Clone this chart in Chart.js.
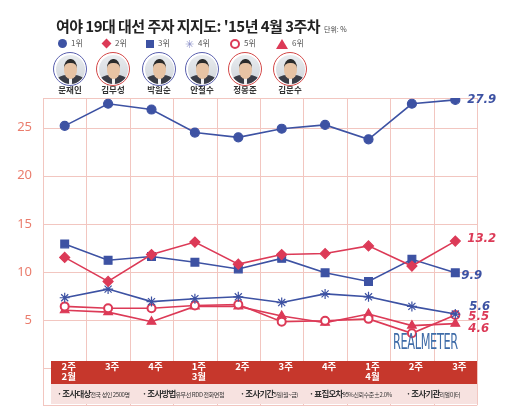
<!DOCTYPE html>
<html>
<head>
<meta charset="utf-8">
<script src="https://cdn.jsdelivr.net/npm/chart.js@4.4.1/dist/chart.umd.min.js"></script>
<style>
	body { margin: 0; background: #fff; }
	#wrap { position: relative; width: 520px; height: 412px; overflow: hidden; font-family: 'Noto Sans CJK KR', 'Noto Sans', sans-serif; }
	#wrap canvas { position: absolute; left: 0; top: 0; }
	.title { position: absolute; left: 56px; top: 15px; font-size: 15px; font-weight: bold; color: #222; letter-spacing: -0.55px; white-space: nowrap; }
	.unit { font-size: 7px; font-weight: normal; letter-spacing: 0; margin-left: 4px; color: #444; }
	.leg { position: absolute; top: 37px; font-size: 8px; color: #555; white-space: nowrap; }
	.sym { display: inline-block; vertical-align: middle; margin-right: 4px; }
	.face { position: absolute; top: 52px; width: 29px; height: 29px; border-radius: 50%; border: 1.5px solid; padding: 1.5px; background: #fff; }
	.face div.in { width: 29px; height: 29px; border-radius: 50%; overflow: hidden; position: relative; background: linear-gradient(#e9ecef, #cfd4da); }
	.head { position: absolute; left: 8px; top: 4px; width: 13px; height: 16px; border-radius: 45%; background: #e7c3a4; border-top: 4px solid #2b2b2b; }
	.suit { position: absolute; left: 1px; top: 20px; width: 27px; height: 12px; border-radius: 40% 40% 0 0; background: #3a3d47; }
	.tie { position: absolute; left: 13px; top: 20px; width: 3px; height: 9px; background: #f2f2f2; }
	.name { position: absolute; top: 84px; width: 40px; text-align: center; font-size: 8.5px; line-height: 10px; font-weight: bold; color: #333; }
	.note { position: absolute; top: 387px; font-size: 8.5px; font-weight: bold; color: #333; white-space: nowrap; letter-spacing: -0.8px; }
	.note small { font-size: 6px; font-weight: normal; letter-spacing: -0.4px; }
	.brand { position: absolute; left: 393px; top: 330px; font-family: 'Liberation Sans Narrow', 'DejaVu Sans Condensed', sans-serif; font-size: 21px; color: #3f6ca8; letter-spacing: -0.6px; transform: scaleX(0.6); transform-origin: left top; }
</style>
</head>
<body>
<div id="wrap">
	<canvas id="c" width="520" height="412"></canvas>
	<div class="title">여야 19대 대선 주자 지지도: '15년 4월 3주차<span class="unit">단위: %</span></div>
	<div id="legend"></div>
	<div id="faces"></div>
	<div class="brand">REALMETER</div>
	<div class="note" style="left:57px">· 조사대상<small>전국 성인 2500명</small></div>
	<div class="note" style="left:142px">· 조사방법<small>유무선 RDD 전화면접</small></div>
	<div class="note" style="left:240px">· 조사기간<small>5일(월~금)</small></div>
	<div class="note" style="left:309px">· 표집오차<small>95%신뢰수준±2.0%</small></div>
	<div class="note" style="left:406px">· 조사기관<small>리얼미터</small></div>
</div>
<script>
const weeks = [['2주', '2월'], '3주', '4주', ['1주', '3월'], '2주', '3주', '4주', ['1주', '4월'], '2주', '3주']
const names = ['문재인', '김무성', '박원순', '안철수', '정몽준', '김문수']
const ranks = ['1위', '2위', '3위', '4위', '5위', '6위']

const moon = [25.2, 27.5, 26.9, 24.5, 24.0, 24.9, 25.3, 23.8, 27.5, 27.9]
const kimMS = [11.5, 9.0, 11.8, 13.1, 10.8, 11.8, 11.9, 12.7, 10.6, 13.2]
const park = [12.9, 11.2, 11.6, 11.0, 10.3, 11.4, 9.9, 9.0, 11.3, 9.9]
const ahn = [7.3, 8.2, 6.9, 7.2, 7.4, 6.8, 7.7, 7.4, 6.4, 5.6]
const chung = [6.4, 6.2, 6.2, 6.5, 6.6, 4.8, 4.9, 5.1, 3.6, 5.5]
const kimMSu = [6.0, 5.8, 4.8, 6.4, 6.4, 5.4, 4.7, 5.6, 4.4, 4.6]

const yTicks = [5, 10, 15, 20, 25]

const BLUE = '#3d52a3'
const RED = '#dc3a57'
const GRID = '#f2c6c0'

const series = [moon, kimMS, park, ahn, chung, kimMSu]
const colors = [BLUE, RED, BLUE, BLUE, RED, RED]
const styles = ['circle', 'rectRot', 'rect', 'star', 'circle', 'triangle']
const radii = [4.5, 5, 5.5, 5, 4, 5]
const fills = [BLUE, RED, BLUE, BLUE, '#fff', RED]
const labelShift = [[12, 0], [12, -2], [6, 3], [14, -7], [13, 2], [13, 5]]

// header: legend + portraits
const legend = document.getElementById('legend')
const legX = [58, 101, 146, 185, 230, 276]
const symHtml = [
	'<span class="sym" style="width:9px;height:9px;border-radius:50%;background:' + BLUE + '"></span>',
	'<span class="sym" style="width:7px;height:7px;transform:rotate(45deg);background:' + RED + ';margin:0 5px 0 2px"></span>',
	'<span class="sym" style="width:8px;height:8px;background:' + BLUE + '"></span>',
	'<span class="sym" style="color:#8a8fc8;font-size:11px;line-height:9px">✳</span>',
	'<span class="sym" style="width:6px;height:6px;border-radius:50%;border:2.5px solid ' + RED + '"></span>',
	'<span class="sym" style="width:0;height:0;border-left:6px solid transparent;border-right:6px solid transparent;border-bottom:10px solid ' + RED + '"></span>'
]
ranks.forEach((r, i) => {
	const d = document.createElement('div')
	d.className = 'leg'
	d.style.left = legX[i] + 'px'
	d.innerHTML = symHtml[i] + r
	legend.appendChild(d)
})

const faces = document.getElementById('faces')
const faceX = [70, 113, 159, 202, 245, 290]
names.forEach((n, i) => {
	const f = document.createElement('div')
	f.className = 'face'
	f.style.left = (faceX[i] - 17) + 'px'
	f.style.borderColor = colors[i] === BLUE ? '#5a60ae' : '#d34848'
	f.innerHTML = '<div class="in"><div class="suit"></div><div class="tie"></div><div class="head"></div></div>'
	faces.appendChild(f)
	const t = document.createElement('div')
	t.className = 'name'
	t.style.left = (faceX[i] - 20) + 'px'
	t.textContent = n
	faces.appendChild(t)
})

const bandPlugin = {
	id: 'band',
	beforeDatasetsDraw(chart) {
		const { ctx, chartArea, scales } = chart
		const { x, y } = scales
		ctx.save()
		// grid, from the scales
		ctx.strokeStyle = GRID
		ctx.lineWidth = 1
		ctx.beginPath()
		y.ticks.forEach((t, i) => {
			const py = Math.round(y.getPixelForTick(i)) + 0.5
			ctx.moveTo(chartArea.left, py)
			ctx.lineTo(chartArea.right, py)
		})
		const step = x.getPixelForValue(1) - x.getPixelForValue(0)
		for (let i = 0; i <= weeks.length; i++) {
			const px = Math.round(x.getPixelForValue(i) - step / 2) + 0.5
			ctx.moveTo(px, chartArea.top)
			ctx.lineTo(px, chartArea.bottom)
		}
		ctx.stroke()
		// week band
		ctx.fillStyle = '#c6372c'
		ctx.fillRect(51, 361, chartArea.right - 51, 23)
		ctx.fillStyle = '#f7e2e0'
		ctx.fillRect(51, 384, chartArea.right - 51, 20)
		ctx.fillStyle = '#fff'
		ctx.font = 'bold 9.5px "Noto Sans CJK KR"'
		ctx.textAlign = 'center'
		ctx.textBaseline = 'top'
		weeks.forEach((w, i) => {
			const px = x.getPixelForValue(i) + 4
			;[].concat(w).forEach((line, j) => ctx.fillText(line, px, 362 + j * 10))
		})
		ctx.restore()
	},
	afterDatasetsDraw(chart) {
		const { ctx } = chart
		ctx.save()
		ctx.font = 'italic bold 13px "Liberation Sans Narrow", "DejaVu Sans Condensed", sans-serif'
		ctx.textBaseline = 'middle'
		chart.data.datasets.forEach((ds, i) => {
			const pts = chart.getDatasetMeta(i).data
			const p = pts[pts.length - 1]
			ctx.fillStyle = colors[i]
			ctx.fillText(ds.data[ds.data.length - 1].toFixed(1), p.x + labelShift[i][0], p.y + labelShift[i][1])
		})
		ctx.restore()
	}
}

Chart.defaults.font.family = "'Noto Sans', sans-serif"
Chart.defaults.animation = false

new Chart(document.getElementById('c'), {
	type: 'line',
	data: {
		labels: weeks,
		datasets: series.map((s, i) => ({
			label: names[i],
			data: s,
			borderColor: colors[i],
			backgroundColor: fills[i],
			borderWidth: 1.6,
			pointStyle: styles[i],
			pointRadius: radii[i],
			pointBorderColor: colors[i],
			pointBackgroundColor: fills[i],
			pointBorderWidth: i === 4 ? 2 : 1.2,
			tension: 0
		}))
	},
	options: {
		responsive: false,
		layout: { padding: { left: 0, right: 43, top: 98, bottom: 2 } },
		plugins: {
			legend: { display: false },
			tooltip: { enabled: false }
		},
		scales: {
			x: {
				offset: true,
				afterFit: (scale) => {
					scale.height = 0
					scale.paddingLeft = scale.paddingRight = 0
				},
				grid: { display: false, drawTicks: false },
				border: { display: false },
				ticks: { display: false }
			},
			y: {
				min: -3.9,
				max: 28.1,
				afterFit: (scale) => {
					scale.width = 43
					scale.paddingTop = scale.paddingBottom = 0
				},
				grid: { display: false, drawTicks: false },
				border: { display: false },
				ticks: {
					stepSize: 5,
					padding: 11,
					color: '#ea7d6d',
					font: { size: 13 },
					callback: (v) => (yTicks.includes(v) ? v : '')
				}
			}
		}
	},
	plugins: [bandPlugin]
})
</script>
</body>
</html>
